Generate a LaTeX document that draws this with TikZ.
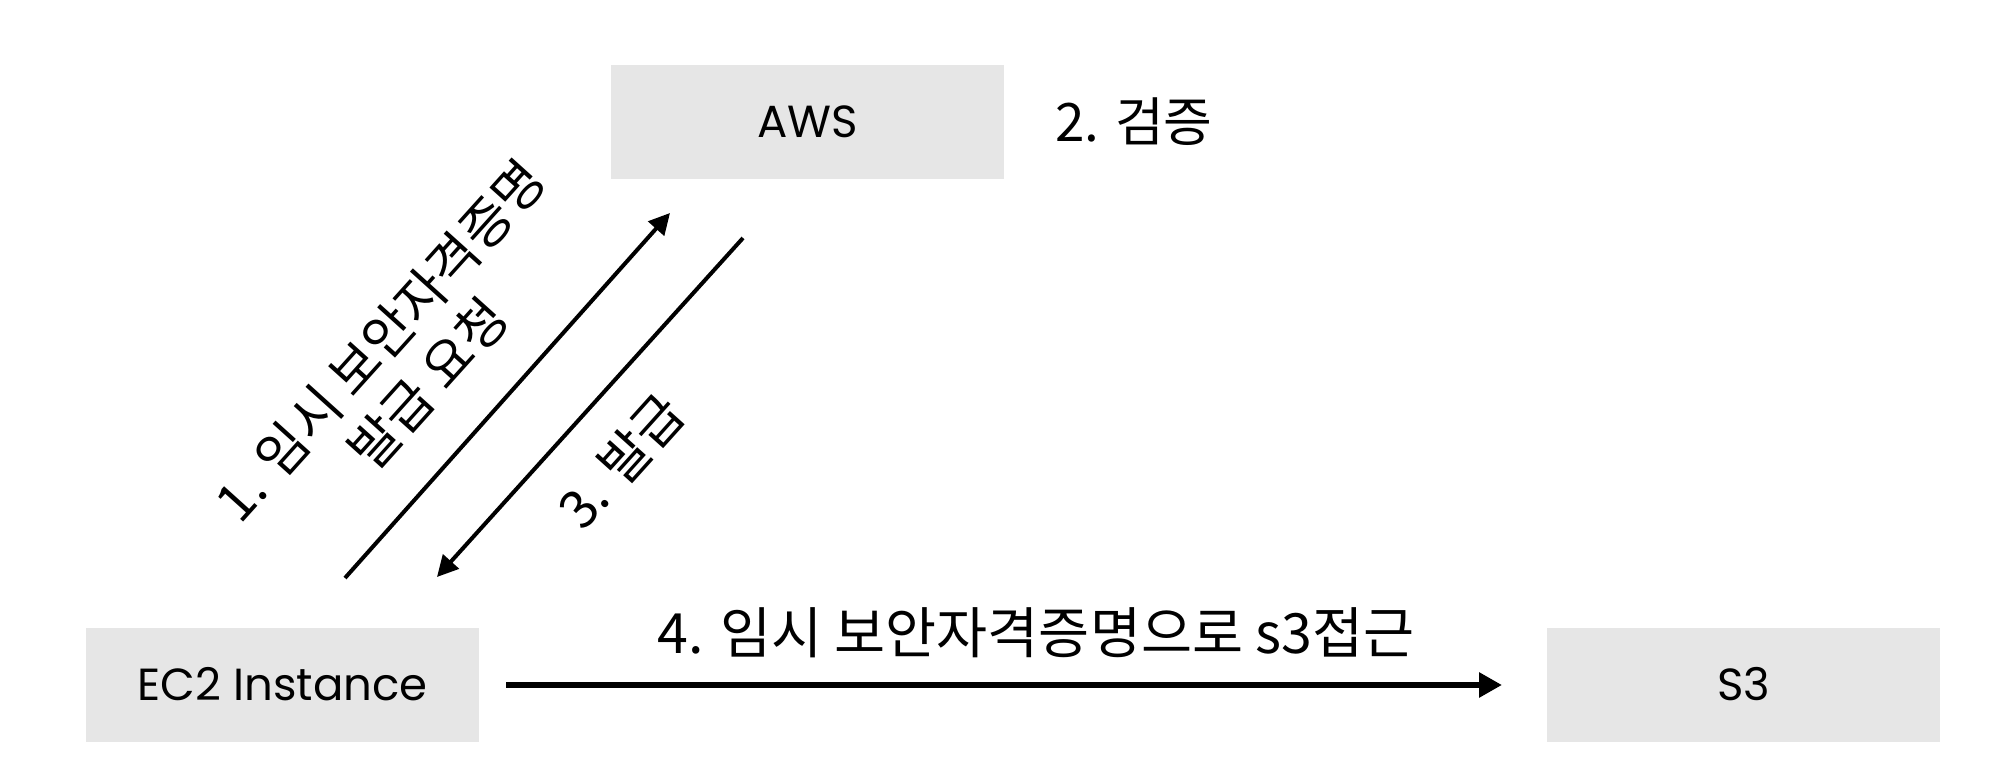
\documentclass[tikz,border=0pt]{standalone}
\usepackage{fontspec}
\setmainfont{Poppins}
\newfontfamily\kr{Noto Sans CJK KR}
\usetikzlibrary{arrows.meta}
\definecolor{boxgray}{HTML}{E6E6E6}
\tikzset{
  box/.style={fill=boxgray, draw=none, minimum width=393pt, minimum height=114pt, inner sep=0pt, font=\fontsize{45}{54}\selectfont},
  steplabel/.style={inner sep=0pt, font=\kr\fontsize{53}{64}\selectfont, align=center},
  widelabel/.style={steplabel, font=\kr\fontsize{55.5}{66}\selectfont},
  diag/.style={line width=4pt, -{Triangle[length=21pt,width=21pt]}},
  flat/.style={line width=6.5pt, -{Triangle[length=23pt,width=24pt]}}
}
\begin{document}
\begin{tikzpicture}[x=1pt,y=-1pt]
\useasboundingbox (0,0) rectangle (2000,778);
\node[box] (aws) at (807.5,122) {AWS};
\node[box] (ec2) at (282.5,684.5) {EC2 Instance};
\node[box] (s3) at (1743.5,684.5) {S3};
\node[steplabel] (l2) at (1134,122) {2. 검증};
\node[widelabel] (l4) at (1036,633) {4. 임시 보안자격증명으로 s3접근};
\node[steplabel, rotate=48] (l1) at (404,362) {1. 임시 보안자격증명\\발급 요청};
\node[steplabel, rotate=48] (l3) at (621,461) {3. 발급};
\coordinate (a1s) at (345,578);
\coordinate (a1e) at (670,213);
\coordinate (a3s) at (743,238);
\coordinate (a3e) at (437,577);
\coordinate (a4s) at (506,685);
\coordinate (a4e) at (1502,685);
\draw[diag] (a1s) -- (a1e);
\draw[diag] (a3s) -- (a3e);
\draw[flat] (a4s) -- (a4e);
\end{tikzpicture}
\end{document}
